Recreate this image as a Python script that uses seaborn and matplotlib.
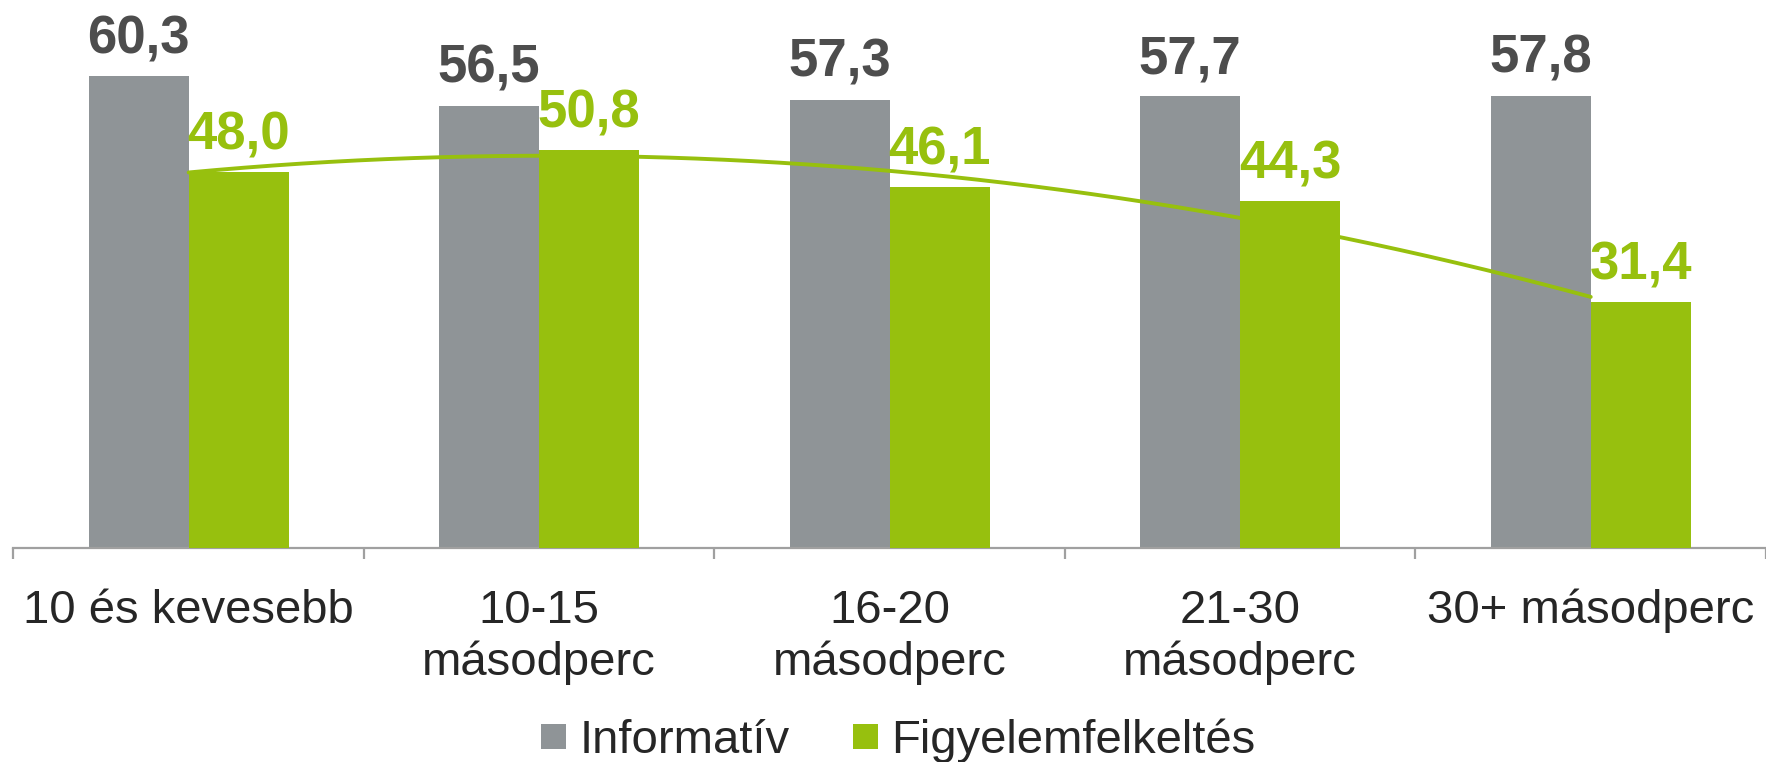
import numpy as np
import pandas as pd
import matplotlib
matplotlib.use("Agg")
import matplotlib.pyplot as plt
from matplotlib.lines import Line2D
import seaborn as sns

categories = ["10 és kevesebb", "10-15\nmásodperc", "16-20\nmásodperc", "21-30\nmásodperc", "30+ másodperc"]
series_names = ["Informatív", "Figyelemfelkeltés"]
informativ = [60.3, 56.5, 57.3, 57.7, 57.8]
figyelem = [48.0, 50.8, 46.1, 44.3, 31.4]

GRAY = "#8F9497"
GREEN = "#97C00E"
LABEL_GRAY = "#4D4D4D"
TEXT = "#262626"
AXIS = "#A0A0A0"

sns.set_theme(style="white")
plt.rcParams["font.family"] = ["Liberation Sans", "DejaVu Sans"]

df = pd.DataFrame({
    "cat": categories * 2,
    "series": [series_names[0]] * 5 + [series_names[1]] * 5,
    "value": informativ + figyelem,
})

fig = plt.figure(figsize=(17.66, 7.62), dpi=100)
ax = fig.add_axes([0.0076, 0.2802, 0.9924, 0.7198])

sns.barplot(data=df, x="cat", y="value", hue="series", order=categories,
            hue_order=series_names, palette=[GRAY, GREEN], width=0.5714,
            gap=0, saturation=1, legend=False, ax=ax, errorbar=None)

for bar in ax.containers[0]:
    bar.set_zorder(1)
    bar.set_linewidth(0)
for bar in ax.containers[1]:
    bar.set_zorder(3)
    bar.set_linewidth(0)

# quadratic trendline of the green series
xs = np.arange(len(figyelem))
coef = np.polyfit(xs, figyelem, 2)
xx = np.linspace(0, len(figyelem) - 1, 200)
ax.plot(xx, np.polyval(coef, xx), color=GREEN, lw=2.8, zorder=2)

# value labels
for cont, vals, col in [(ax.containers[0], informativ, LABEL_GRAY), (ax.containers[1], figyelem, GREEN)]:
    for bar, v in zip(cont, vals):
        ax.annotate(f"{v:.1f}".replace(".", ","),
                    (bar.get_x() + bar.get_width() / 2, bar.get_height()),
                    xytext=(0, 16.5), textcoords="offset points",
                    ha="center", va="baseline", fontsize=38, fontweight="bold",
                    color=col, zorder=5)

ax.set_xlim(-0.5, 4.5)
ax.set_ylim(0, 70)
ax.set_xlabel("")
ax.set_ylabel("")
ax.set_yticks([])
for s in ["top", "right", "left"]:
    ax.spines[s].set_visible(False)
ax.spines["bottom"].set_color(AXIS)
ax.spines["bottom"].set_linewidth(1.6)

ax.set_xticks(range(5))
ax.set_xticklabels(categories, fontsize=34, color=TEXT, linespacing=1.22)
ax.tick_params(axis="x", which="major", length=0, pad=29)
ax.set_xticks(np.arange(-0.5, 5, 1), minor=True)
ax.tick_params(axis="x", which="minor", bottom=True, length=8, width=1.6,
               color=AXIS, direction="out")

handles = [Line2D([], [], marker="s", linestyle="none", markersize=18, markerfacecolor=c,
                  markeredgewidth=0) for c in (GRAY, GREEN)]
fig.legend(handles, series_names, loc="center", bbox_to_anchor=(0.508, 0.028), ncol=2,
           frameon=False, fontsize=34, handletextpad=0.25, columnspacing=1.3,
           handlelength=0.6, labelcolor=TEXT, borderaxespad=0, borderpad=0)

fig.savefig("out.png", dpi=100)
